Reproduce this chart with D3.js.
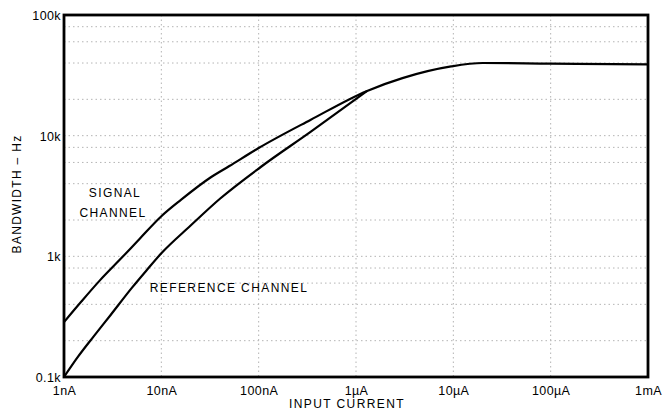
<!DOCTYPE html>
<html>
<head>
<meta charset="utf-8">
<script src="https://cdn.jsdelivr.net/npm/d3@7"></script>
<style>
  body { margin: 0; background: #fff; }
  svg { display: block; font-family: "Liberation Sans", Arial, sans-serif; }
</style>
</head>
<body>
<svg id="chart" width="665" height="416"></svg>
<script>
// tick labels
var xTickValues = [1e-9, 1e-8, 1e-7, 1e-6, 1e-5, 1e-4, 1e-3]
var xTickLabels = ["1nA", "10nA", "100nA", "1\u00b5A", "10\u00b5A", "100\u00b5A", "1mA"]
var yTickValues = [100, 1000, 10000, 100000]
var yTickLabels = ["0.1k", "1k", "10k", "100k"]

// signal channel (input current in A, bandwidth in Hz)
var signalCurrent = [1e-9, 1.5e-9, 2.35e-9, 4e-9, 6e-9, 1e-8, 1.6e-8, 3.2e-8, 5e-8, 1e-7, 3.4e-7, 1.3e-6, 3e-6, 9.5e-6, 2e-5, 1e-4, 1e-3]
var signalBw = [285, 420, 635, 990, 1400, 2150, 2950, 4500, 5600, 7900, 13500, 23500, 30000, 37500, 40000, 39500, 39000]

// reference channel (joins the signal curve near 1.3uA)
var refCurrent = [1e-9, 1.4e-9, 2e-9, 3e-9, 5e-9, 7e-9, 1e-8, 2e-8, 4e-8, 1.05e-7, 3.44e-7, 1.3e-6]
var refBw = [100, 148, 215, 325, 550, 760, 1060, 1800, 3000, 5500, 10800, 23500]

var svg = d3.select("#chart")
var pLeft = 64, pRight = 648, pTop = 15, pBottom = 377

var x = d3.scaleLog().domain([1e-9, 1e-3]).range([pLeft, pRight])
var y = d3.scaleLog().domain([100, 100000]).range([pBottom, pTop])

// grid: decades vertically, 2,4,6,8 x decade and decades horizontally
var hGrid = []
yTickValues.slice(0, 3).forEach(function (d) {
  [2, 4, 6, 8, 10].forEach(function (m) { hGrid.push(d * m) })
})
hGrid.pop() // 100k is the frame

var grid = svg.append("g")
  .attr("stroke", "#b4b4b4")
  .attr("stroke-width", 1)
  .attr("stroke-dasharray", "1.5 3")

grid.selectAll("line.h")
  .data(hGrid)
  .enter()
  .append("line")
  .attr("class", "h")
  .attr("x1", pLeft).attr("x2", pRight)
  .attr("y1", function (d) { return y(d) })
  .attr("y2", function (d) { return y(d) })

grid.selectAll("line.v")
  .data(xTickValues.slice(1, -1))
  .enter()
  .append("line")
  .attr("class", "v")
  .attr("y1", pTop).attr("y2", pBottom)
  .attr("x1", function (d) { return x(d) })
  .attr("x2", function (d) { return x(d) })

// axes labels
var xAxis = d3.axisBottom(x)
  .tickValues(xTickValues)
  .tickSize(0)
  .tickPadding(9)
  .tickFormat(function (d, i) { return xTickLabels[i] })

var yAxis = d3.axisLeft(y)
  .tickValues(yTickValues)
  .tickSize(0)
  .tickPadding(3)
  .tickFormat(function (d, i) { return yTickLabels[i] })

var gx = svg.append("g").attr("transform", "translate(0," + pBottom + ")").call(xAxis)
var gy = svg.append("g").attr("transform", "translate(" + pLeft + ",0)").call(yAxis)
gx.select(".domain").remove()
gy.select(".domain").remove()
svg.selectAll(".tick text")
  .attr("fill", "#000")
  .style("font-size", "12.5px")
  .style("letter-spacing", "0.4px")
gy.selectAll(".tick text").attr("dy", "0.35em")

// curves
var line = d3.line()
  .x(function (d) { return x(d[0]) })
  .y(function (d) { return y(d[1]) })
  .curve(d3.curveMonotoneX)

svg.append("path")
  .datum(d3.zip(signalCurrent, signalBw))
  .attr("d", line)
  .attr("fill", "none")
  .attr("stroke", "#000")
  .attr("stroke-width", 2.2)

svg.append("path")
  .datum(d3.zip(refCurrent, refBw))
  .attr("d", line)
  .attr("fill", "none")
  .attr("stroke", "#000")
  .attr("stroke-width", 2.2)

// frame
svg.append("rect")
  .attr("x", pLeft).attr("y", pTop)
  .attr("width", pRight - pLeft).attr("height", pBottom - pTop)
  .attr("fill", "none")
  .attr("stroke", "#000")
  .attr("stroke-width", 2.8)

// texts
var label = function (txt, tx, ty) {
  return svg.append("text")
    .attr("x", tx).attr("y", ty)
    .attr("text-anchor", "middle")
    .attr("dy", "0.35em")
    .style("font-size", "12px")
    .style("letter-spacing", "1.4px")
    .text(txt)
}
label("SIGNAL", 115, 193)
label("CHANNEL", 113, 213)
label("REFERENCE CHANNEL", 229, 288)
label("INPUT CURRENT", 347, 404)

svg.append("text")
  .attr("transform", "translate(17,194) rotate(-90)")
  .attr("text-anchor", "middle")
  .attr("dy", "0.35em")
  .style("font-size", "12px")
  .style("letter-spacing", "1.3px")
  .text("BANDWIDTH \u2013 Hz")
</script>
</body>
</html>
